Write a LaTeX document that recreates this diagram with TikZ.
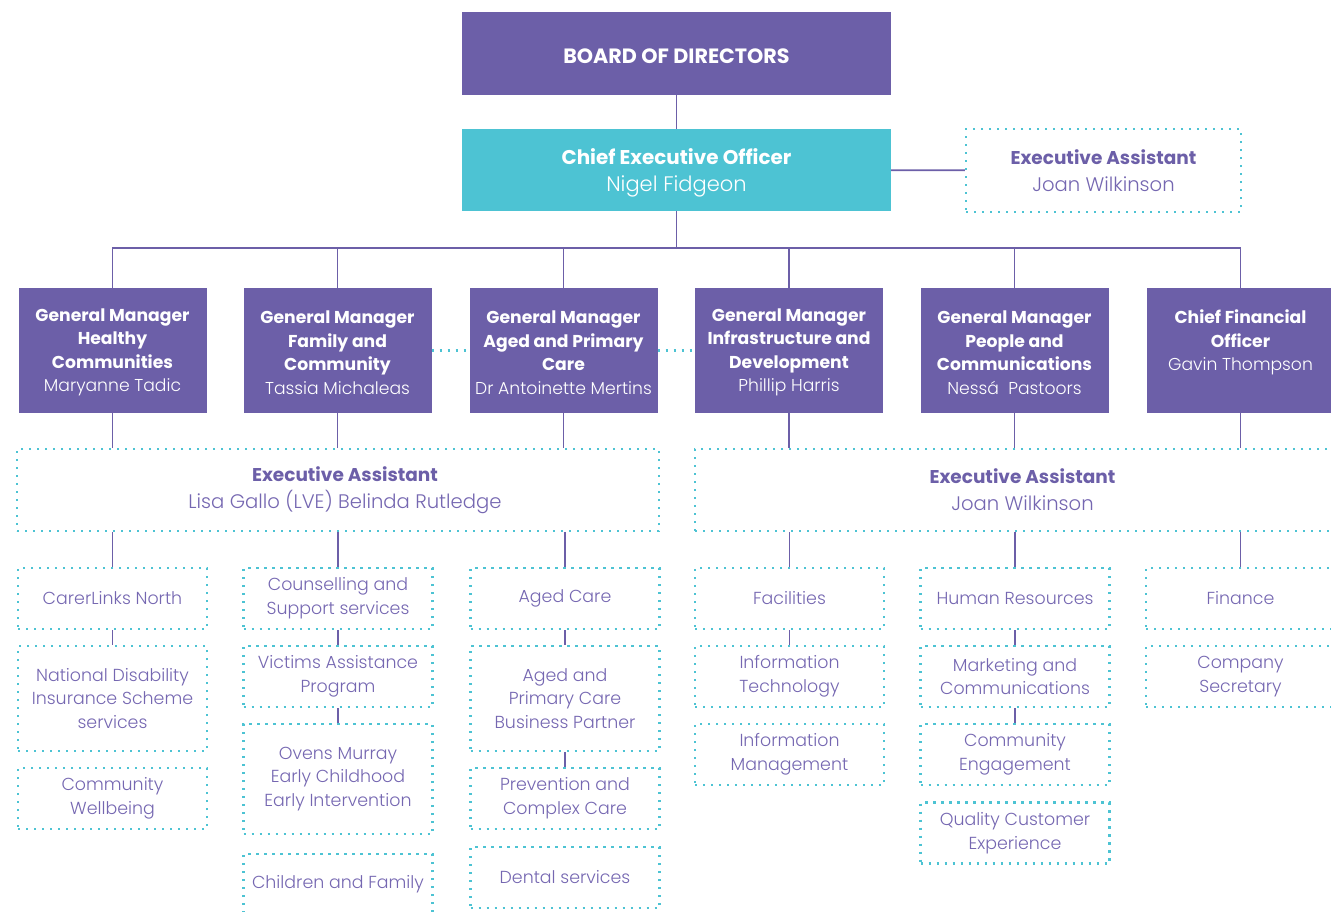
\documentclass[tikz,border=0pt]{standalone}
\usepackage{fontspec}
\setmainfont{Poppins}
\newfontfamily\lightfont{Poppins Light}
\usetikzlibrary{positioning}
\definecolor{orgpurple}{HTML}{6C5FA8}
\definecolor{orgteal}{HTML}{4DC3D3}
\definecolor{orgtext}{HTML}{7567B1}
\newcommand{\eatitle}{{\fontsize{18.5}{27}\selectfont\bfseries\rmfamily\color{orgpurple}Executive Assistant}}
\newcommand{\hstrut}[1]{\rule{0pt}{#1}}
\tikzstyle{head} = [rectangle, fill=orgpurple, text=white, align=center, inner sep=0pt, minimum width=188, minimum height=125, font=\fontsize{17.2}{23.5}\selectfont\bfseries]
\tikzstyle{top} = [head, minimum width=429, minimum height=83, font=\fontsize{19.9}{27}\selectfont\bfseries]
\tikzstyle{unit} = [rectangle, draw=orgteal, line width=2.2pt, dash pattern=on 2.2pt off 5.8pt, text=orgtext, align=center, inner sep=0pt, minimum width=189, font=\fontsize{17.4}{23.7}\selectfont\lightfont]
\tikzstyle{ea} = [unit, minimum height=82, font=\fontsize{19.6}{27}\selectfont\lightfont]
\tikzstyle{link} = [draw=orgpurple, line width=1.8pt]
\tikzstyle{dotlink} = [draw=orgteal, line width=2.2pt, dash pattern=on 2.2pt off 5.8pt]

\begin{document}
\begin{tikzpicture}[x=1pt,y=-1pt]
    \useasboundingbox (0,0) rectangle (1331,911);
    % board, ceo and assistant
    \node[top, font=\fontsize{20.7}{27}\selectfont\bfseries] (board) at (676.5,53.5) {\hstrut{20.8pt}BOARD OF DIRECTORS};
    \node[top, fill=orgteal, minimum height=82] (ceo) at (676.5,170) {\hstrut{21.5pt}Chief Executive Officer\\{\lightfont\mdseries\fontsize{21}{27}\selectfont Nigel Fidgeon}};
    \node[ea, minimum width=275, minimum height=83] (ceoea) at (1103.5,170.5) {\eatitle\\Joan Wilkinson};
    \draw[link] (board) -- (ceo);
    \draw[link] (ceo) -- (ceoea);
    \coordinate (split) at (676.5,248);
    \draw[link] (ceo) -- (split);

    % general managers
    \node[head] (gmhealth) at (112.5,350.5) {\hstrut{16.7pt}General Manager\\Healthy\\Communities\\{\lightfont\mdseries Maryanne Tadic}};
    \node[head] (gmfamily) at (337.5,350.5) {\hstrut{16.7pt}General Manager\\Family and\\Community\\{\lightfont\mdseries Tassia Michaleas}};
    \node[head] (gmaged) at (563.5,350.5) {\hstrut{16.7pt}General Manager\\Aged and Primary\\Care\\{\lightfont\mdseries Dr Antoinette Mertins}};
    \node[head] (gminfra) at (789,350.5) {\hstrut{16.7pt}General Manager\\Infrastructure and\\Development\\{\lightfont\mdseries Phillip Harris}};
    \node[head] (gmpeople) at (1014.5,350.5) {\hstrut{16.7pt}General Manager\\People and\\Communications\\{\lightfont\mdseries Nessá\ \ Pastoors}};
    \node[head] (cfo) at (1240.5,350.5) {\hstrut{16.7pt}Chief Financial\\Officer\\{\lightfont\mdseries Gavin Thompson}\\~};
    \foreach \gm in {gmhealth,gmfamily,gmaged,gminfra,gmpeople,cfo}
        \draw[link] (\gm.north) |- (split);
    \draw[dotlink] (gmfamily) -- (gmaged);
    \draw[dotlink] (gmaged) -- (gminfra);

    % assistants to the managers
    \node[ea, minimum width=642] (ealeft) at (338,490) {\hspace*{14pt}\eatitle\\\hspace*{14pt}Lisa Gallo (LVE) Belinda Rutledge};
    \node[ea, minimum width=655] (earight) at (1022.5,490) {\eatitle\\Joan Wilkinson};
    \foreach \gm in {gmhealth,gmfamily,gmaged}
        \draw[link] (\gm) -- (\gm |- ealeft.north);
    \foreach \gm in {gminfra,gmpeople,cfo}
        \draw[link] (\gm) -- (\gm |- earight.north);

    % healthy communities
    \node[unit, minimum height=61] (carer) at (112.5,598.5) {CarerLinks North};
    \node[unit, minimum height=105] (ndis) at (112.5,698.5) {National Disability\\Insurance Scheme\\services};
    \node[unit, minimum height=61] (wellbeing) at (112.5,798.5) {Community\\Wellbeing};
    % family and community
    \node[unit, minimum height=61] (counsel) at (338,598.5) {Counselling and\\Support services};
    \node[unit, minimum height=61] (victims) at (338,676.5) {Victims Assistance\\Program};
    \node[unit, minimum height=110] (ovens) at (338,779) {Ovens Murray\\Early Childhood\\Early Intervention};
    \node[unit, minimum height=61] (children) at (338,884.5) {Children and Family};
    % aged and primary care
    \node[unit, minimum height=61] (agedcare) at (565,598.5) {Aged Care};
    \node[unit, minimum height=105] (partner) at (565,698.5) {Aged and\\Primary Care\\Business Partner};
    \node[unit, minimum height=61] (prevent) at (565,798.5) {Prevention and\\Complex Care};
    \node[unit, minimum height=61] (dental) at (565,877.5) {Dental services};
    % infrastructure and development
    \node[unit, minimum height=61] (facil) at (789.5,598.5) {Facilities};
    \node[unit, minimum height=61] (infotech) at (789.5,676.5) {Information\\Technology};
    \node[unit, minimum height=61] (infomgmt) at (789.5,754.5) {Information\\Management};
    % people and communications
    \node[unit, minimum height=61] (hr) at (1015,598.5) {Human Resources};
    \node[unit, minimum height=61] (marketing) at (1015,676.5) {Marketing and\\Communications};
    \node[unit, minimum height=61] (engage) at (1015,754.5) {Community\\Engagement};
    \node[unit, minimum height=61] (quality) at (1015,833) {Quality Customer\\Experience};
    % finance
    \node[unit, minimum height=61] (finance) at (1240.5,598.5) {Finance};
    \node[unit, minimum height=61] (secretary) at (1240.5,676.5) {Company\\Secretary};

    \foreach \u in {carer,counsel,agedcare}
        \draw[link] (\u |- ealeft.south) -- (\u);
    \foreach \u in {facil,hr,finance}
        \draw[link] (\u |- earight.south) -- (\u);
    \draw[link] (carer) -- (ndis);
    \draw[link] (counsel) -- (victims);
    \draw[link] (victims) -- (ovens);
    \draw[link] (agedcare) -- (partner);
    \draw[link] (partner) -- (prevent);
    \draw[link] (facil) -- (infotech);
    \draw[link] (hr) -- (marketing);
    \draw[link] (marketing) -- (engage);
\end{tikzpicture}
\end{document}
